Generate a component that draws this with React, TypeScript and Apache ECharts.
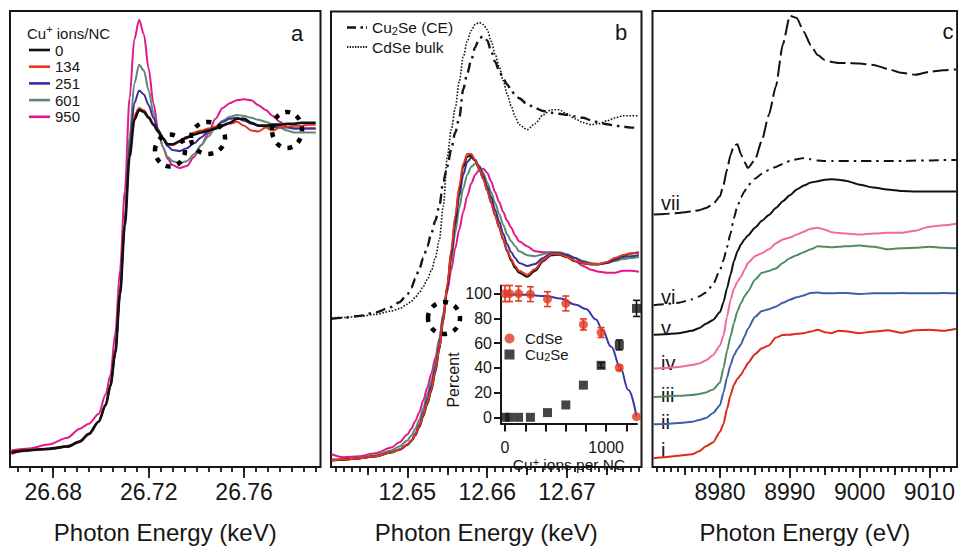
import React, { useEffect, useRef } from "react";
import * as echarts from "echarts";

const FONT = '"Liberation Sans", Arial, Helvetica, sans-serif';
const INK = "#161616";

// ---------------- Panel a ----------------
const aEnergy = [26.6625, 26.670, 26.678, 26.686, 26.691, 26.695, 26.699, 26.702, 26.704, 26.706, 26.708, 26.710, 26.712, 26.714, 26.716, 26.718, 26.720, 26.722, 26.724, 26.726, 26.728, 26.730, 26.733, 26.736, 26.739, 26.742, 26.745, 26.748, 26.751, 26.754, 26.757, 26.760, 26.763, 26.766, 26.769, 26.772, 26.775, 26.778, 26.781, 26.784, 26.787, 26.790];
const a0 = [-0.005, 0.001, 0.006, 0.013, 0.028, 0.052, 0.089, 0.14, 0.2, 0.299, 0.48, 0.691, 0.902, 1.016, 1.046, 1.04, 1.022, 1.001, 0.98, 0.959, 0.941, 0.941, 0.95, 0.962, 0.971, 0.977, 0.983, 0.989, 0.998, 1.007, 1.019, 1.019, 1.007, 0.998, 0.998, 1.001, 1.001, 1.004, 1.004, 1.007, 1.007, 1.007];
const a134 = [-0.01, 0.004, 0.004, 0.015, 0.026, 0.05, 0.088, 0.14, 0.2, 0.3, 0.485, 0.7, 0.915, 1.03, 1.052, 1.045, 1.026, 1.003, 0.98, 0.958, 0.94, 0.938, 0.948, 0.959, 0.977, 0.983, 0.989, 0.995, 1.001, 1.004, 1.01, 0.998, 0.983, 0.98, 0.992, 0.983, 0.992, 0.995, 0.998, 0.998, 1.001, 1.001];
const a251 = [-0.006, 0.002, 0.005, 0.012, 0.027, 0.051, 0.088, 0.14, 0.2, 0.3, 0.485, 0.697, 0.932, 1.067, 1.106, 1.094, 1.061, 1.022, 0.986, 0.956, 0.935, 0.923, 0.92, 0.929, 0.944, 0.962, 0.98, 0.995, 1.01, 1.019, 1.022, 1.013, 1.004, 0.998, 0.995, 0.995, 0.992, 0.992, 0.989, 0.989, 0.989, 0.989];
const a601 = [-0.006, 0.002, 0.006, 0.013, 0.028, 0.052, 0.09, 0.142, 0.203, 0.305, 0.49, 0.715, 0.962, 1.127, 1.185, 1.167, 1.106, 1.037, 0.977, 0.932, 0.902, 0.889, 0.883, 0.889, 0.91, 0.938, 0.965, 0.992, 1.013, 1.025, 1.031, 1.028, 1.022, 1.016, 1.01, 1.001, 0.992, 0.983, 0.977, 0.977, 0.977, 0.977];
const a950 = [0.001, 0.007, 0.019, 0.04, 0.067, 0.083, 0.113, 0.173, 0.233, 0.36, 0.555, 0.796, 1.082, 1.263, 1.323, 1.278, 1.173, 1.067, 0.986, 0.932, 0.896, 0.877, 0.868, 0.874, 0.902, 0.938, 0.974, 1.019, 1.052, 1.067, 1.076, 1.079, 1.076, 1.061, 1.046, 1.028, 1.01, 0.995, 0.989, 0.989, 0.989, 0.989];
const aMajorTicks = [26.68, 26.72, 26.76];
const ionNames = ["0", "134", "251", "601", "950"];

// ---------------- Panel b ----------------
const bEnergy = [12.6405, 12.642, 12.644, 12.646, 12.648, 12.649, 12.650, 12.6505, 12.651, 12.6515, 12.652, 12.6525, 12.653, 12.6535, 12.654, 12.6545, 12.655, 12.6555, 12.656, 12.6565, 12.657, 12.6575, 12.658, 12.6585, 12.659, 12.6595, 12.660, 12.6605, 12.661, 12.6615, 12.662, 12.6625, 12.663, 12.6635, 12.664, 12.665, 12.666, 12.667, 12.668, 12.669, 12.670, 12.671, 12.672, 12.673, 12.674, 12.675, 12.676, 12.677, 12.678, 12.679];
const b0 = [-0.018, -0.014, -0.007, 0.003, 0.022, 0.036, 0.06, 0.079, 0.108, 0.15, 0.203, 0.265, 0.33, 0.422, 0.535, 0.68, 0.85, 1.02, 1.19, 1.338, 1.45, 1.5, 1.505, 1.48, 1.438, 1.39, 1.333, 1.27, 1.206, 1.146, 1.085, 1.028, 0.981, 0.944, 0.92, 0.9, 0.93, 0.978, 1.008, 1.01, 0.997, 0.977, 0.967, 0.962, 0.962, 0.972, 0.992, 1.006, 1.016, 1.021];
const b134 = [-0.016, -0.013, -0.006, 0.004, 0.024, 0.038, 0.063, 0.082, 0.112, 0.156, 0.21, 0.273, 0.337, 0.43, 0.543, 0.69, 0.861, 1.033, 1.204, 1.351, 1.464, 1.513, 1.513, 1.484, 1.44, 1.39, 1.332, 1.268, 1.204, 1.146, 1.087, 1.033, 0.989, 0.954, 0.93, 0.91, 0.939, 0.984, 1.013, 1.013, 0.999, 0.979, 0.969, 0.964, 0.964, 0.974, 0.994, 1.008, 1.018, 1.023];
const b251 = [-0.016, -0.013, -0.006, 0.004, 0.024, 0.038, 0.063, 0.082, 0.117, 0.161, 0.22, 0.288, 0.357, 0.445, 0.558, 0.7, 0.852, 1.008, 1.16, 1.302, 1.41, 1.474, 1.494, 1.484, 1.45, 1.405, 1.351, 1.297, 1.234, 1.175, 1.116, 1.062, 1.023, 0.994, 0.969, 0.954, 0.964, 0.994, 1.018, 1.018, 1.008, 0.994, 0.974, 0.964, 0.964, 0.969, 0.984, 0.999, 1.003, 1.008];
const b601 = [-0.011, -0.011, -0.004, 0.009, 0.033, 0.053, 0.082, 0.107, 0.141, 0.185, 0.244, 0.313, 0.381, 0.469, 0.582, 0.714, 0.847, 0.984, 1.121, 1.244, 1.342, 1.41, 1.45, 1.464, 1.455, 1.42, 1.371, 1.322, 1.268, 1.214, 1.16, 1.111, 1.077, 1.053, 1.028, 1.008, 1.003, 1.013, 1.023, 1.023, 1.013, 0.994, 0.979, 0.969, 0.964, 0.969, 0.979, 0.989, 0.994, 0.999];
const b950 = [0.014, -0.001, 0.004, 0.019, 0.048, 0.073, 0.112, 0.141, 0.18, 0.224, 0.283, 0.347, 0.416, 0.494, 0.592, 0.714, 0.827, 0.935, 1.043, 1.136, 1.224, 1.302, 1.366, 1.41, 1.435, 1.44, 1.42, 1.376, 1.322, 1.273, 1.224, 1.18, 1.146, 1.106, 1.077, 1.053, 1.028, 1.023, 1.023, 1.018, 1.003, 0.979, 0.954, 0.935, 0.925, 0.92, 0.92, 0.93, 0.93, 0.925];
const bCdSeBulk = [0.695, 0.697, 0.702, 0.712, 0.729, 0.741, 0.763, 0.778, 0.798, 0.822, 0.852, 0.886, 0.93, 0.994, 1.082, 1.253, 1.498, 1.635, 1.743, 1.876, 1.998, 2.076, 2.13, 2.16, 2.17, 2.16, 2.135, 2.076, 2.012, 1.949, 1.88, 1.812, 1.753, 1.699, 1.66, 1.635, 1.665, 1.709, 1.734, 1.734, 1.714, 1.689, 1.67, 1.66, 1.665, 1.679, 1.694, 1.704, 1.704, 1.704];
const bCu2SeCE = [0.69, 0.695, 0.705, 0.722, 0.749, 0.773, 0.812, 0.846, 0.89, 0.94, 0.994, 1.052, 1.116, 1.18, 1.253, 1.376, 1.45, 1.538, 1.621, 1.694, 1.837, 1.915, 1.983, 2.047, 2.091, 2.101, 2.081, 2.027, 1.973, 1.929, 1.89, 1.861, 1.832, 1.807, 1.792, 1.763, 1.743, 1.728, 1.719, 1.714, 1.709, 1.701, 1.694, 1.682, 1.67, 1.662, 1.655, 1.65, 1.645, 1.645];
const bMajorTicks = [12.65, 12.66, 12.67];
const bMidTicks = [12.645, 12.655, 12.665, 12.675];

// ---------------- Panel c ----------------
const cEnergy = [8970.5, 8972, 8974, 8976, 8977, 8978, 8979, 8980, 8980.5, 8981, 8981.5, 8982, 8982.5, 8983, 8983.5, 8984, 8985, 8986, 8987, 8988, 8989, 8990, 8991, 8992, 8993, 8994, 8995, 8996, 8997, 8998, 9000, 9002, 9004, 9006, 9008, 9010, 9012, 9013.8];
const cI = [0.069, 0.077, 0.088, 0.1, 0.123, 0.162, 0.192, 0.277, 0.338, 0.454, 0.562, 0.646, 0.692, 0.723, 0.769, 0.815, 0.885, 0.931, 0.954, 1.015, 1.035, 1.038, 1.046, 1.05, 1.062, 1.077, 1.058, 1.05, 1.069, 1.065, 1.05, 1.062, 1.073, 1.054, 1.073, 1.077, 1.069, 1.085];
const cII = [0.335, 0.338, 0.346, 0.354, 0.369, 0.385, 0.423, 0.485, 0.585, 0.7, 0.8, 0.877, 0.923, 0.962, 1.023, 1.085, 1.177, 1.223, 1.238, 1.258, 1.288, 1.312, 1.331, 1.346, 1.365, 1.369, 1.362, 1.362, 1.365, 1.365, 1.358, 1.362, 1.362, 1.365, 1.362, 1.362, 1.365, 1.362];
const cIII = [0.55, 0.554, 0.558, 0.565, 0.573, 0.585, 0.608, 0.662, 0.777, 0.908, 1.023, 1.131, 1.223, 1.285, 1.338, 1.377, 1.469, 1.523, 1.538, 1.558, 1.6, 1.638, 1.662, 1.685, 1.708, 1.731, 1.727, 1.723, 1.727, 1.731, 1.738, 1.727, 1.708, 1.715, 1.719, 1.727, 1.719, 1.715];
const cIV = [0.773, 0.777, 0.785, 0.8, 0.812, 0.838, 0.877, 0.954, 1.031, 1.177, 1.308, 1.4, 1.454, 1.492, 1.546, 1.6, 1.654, 1.677, 1.708, 1.754, 1.785, 1.8, 1.823, 1.846, 1.869, 1.877, 1.862, 1.842, 1.835, 1.831, 1.823, 1.831, 1.838, 1.838, 1.854, 1.885, 1.896, 1.908];
const cV = [1.038, 1.042, 1.05, 1.069, 1.088, 1.123, 1.154, 1.215, 1.292, 1.4, 1.508, 1.615, 1.692, 1.746, 1.785, 1.815, 1.877, 1.931, 1.977, 2.031, 2.085, 2.131, 2.177, 2.208, 2.231, 2.242, 2.254, 2.258, 2.254, 2.246, 2.215, 2.192, 2.177, 2.165, 2.162, 2.162, 2.162, 2.162];
const cVI = [1.269, 1.277, 1.288, 1.315, 1.338, 1.369, 1.431, 1.546, 1.623, 1.723, 1.831, 1.954, 2.046, 2.115, 2.162, 2.208, 2.262, 2.3, 2.331, 2.354, 2.377, 2.4, 2.415, 2.423, 2.415, 2.404, 2.4, 2.4, 2.4, 2.4, 2.4, 2.4, 2.4, 2.4, 2.404, 2.404, 2.408, 2.408];
const cVII = [1.981, 1.985, 1.992, 2.004, 2.015, 2.031, 2.062, 2.123, 2.215, 2.331, 2.446, 2.523, 2.531, 2.454, 2.392, 2.346, 2.408, 2.562, 2.762, 2.985, 3.315, 3.538, 3.523, 3.415, 3.308, 3.231, 3.192, 3.177, 3.169, 3.169, 3.165, 3.154, 3.123, 3.092, 3.077, 3.1, 3.112, 3.119];
const cMajorTicks = [8980, 8990, 9000, 9010];
const cMidTicks = [8975, 8985, 8995, 9005];
const cLabels = ["i", "ii", "iii", "iv", "v", "vi", "vii"];

// ---------------- Inset ----------------
const insetIons = [0, 45, 134, 251, 420, 601, 775, 950, 1130, 1300];
const insetCdSe = [100, 100, 100, 99.5, 95.5, 92, 75, 68.5, 40, 0.5];
const insetCdSeErr = [6.5, 6.5, 6, 6, 6, 6, 4.5, 4, 2, 0];
const insetCu2Se = [0, 0, 0, 0, 3.8, 10, 26, 42, 58.5, 88];
const insetCu2SeErr = [0, 0, 0, 0, 0, 0, 0, 2, 4, 6.5];
const insetFitIons = [0, 200, 400, 550, 700, 800, 900, 960, 1050, 1140, 1220, 1300];
const insetFitPct = [99, 99, 98, 96, 91, 87.5, 79, 71, 57, 40, 22, 0.6];
const insetPctTicks = [0, 20, 40, 60, 80, 100];
const insetIonTicks = [0, 200, 400, 600, 800, 1000, 1200];
const insetIonLabels = [0, 1000];

const COL: Record<string, string> = {
  "0": "#111111",
  "134": "#e2371c",
  "251": "#3a2d9c",
  "601": "#5b8a72",
  "950": "#e3178c",
  i: "#de2a1b",
  ii: "#3f5fa8",
  iii: "#4f8d60",
  iv: "#ef6b9b",
  v: "#111111",
  vi: "#111111",
  vii: "#111111",
};

const ICON_DASHDOT = "path://M0 0H9V2.4H0Z M13.5 0H16V2.4H13.5Z M19 0H20V2.4H19Z";
const ICON_DOTTED = "path://M0 0H1.3V1.8H0Z M2.6 0H3.9V1.8H2.6Z M5.2 0H6.5V1.8H5.2Z M7.8 0H9.1V1.8H7.8Z M10.4 0H11.7V1.8H10.4Z M13 0H14.3V1.8H13Z M15.6 0H16.9V1.8H15.6Z M18.2 0H19.5V1.8H18.2Z";
const ICON_SQUARE = "path://M0 0H10V10H0Z";

function pairs(xs: number[], ys: number[]) {
  return xs.map((x, i) => [x, ys[i]]);
}
function seq(a: number, b: number, step: number, d: number) {
  const out: number[] = [];
  for (let k = 0; a + k * step <= b + step / 2; k++) out.push(+(a + k * step).toFixed(d));
  return out;
}

function tickAxis(gridIndex: number, min: number, max: number, ticks: number[], len: number) {
  return {
    type: "value",
    gridIndex,
    min,
    max,
    position: "bottom",
    axisLine: { show: false, onZero: false },
    splitLine: { show: false },
    axisLabel: { show: false },
    axisTick: { show: true, inside: false, length: len, customValues: ticks, lineStyle: { color: INK, width: 1.8 } },
  };
}
function majorAxis(gridIndex: number, min: number, max: number, ticks: number[], name: string, fmt: (v: number) => string) {
  return {
    ...tickAxis(gridIndex, min, max, ticks, 11),
    axisLabel: {
      show: true,
      customValues: ticks,
      formatter: fmt,
      fontSize: 23,
      fontFamily: FONT,
      color: INK,
      margin: 13,
    },
    name,
    nameLocation: "middle",
    nameGap: 53,
    nameMoveOverlap: false,
    nameTextStyle: { fontSize: 24, fontFamily: FONT, color: INK },
  };
}

function curve(name: string, xi: number, yi: number, xs: number[], ys: number[], width = 2, extra: any = {}) {
  return {
    type: "line",
    name,
    xAxisIndex: xi,
    yAxisIndex: yi,
    data: pairs(xs, ys),
    symbol: "none",
    showSymbol: false,
    smooth: 0.3,
    smoothMonotone: "x",
    silent: true,
    lineStyle: { color: extra.color || COL[name], width, type: extra.type || "solid", cap: "butt" },
    itemStyle: { color: extra.color || COL[name] },
  };
}

function errorBars(name: string, ys: number[], errs: number[], color: string) {
  return {
    type: "custom",
    name,
    xAxisIndex: 8,
    yAxisIndex: 3,
    clip: false,
    silent: true,
    z: 3,
    encode: { x: 0, y: 1 },
    data: insetIons.map((x, i) => [x, ys[i], errs[i]]),
    renderItem: (_p: any, api: any) => {
      const x = api.value(0);
      const y = api.value(1);
      const e = api.value(2);
      if (!e) return { type: "group", children: [] };
      const t = api.coord([x, y + e]);
      const b = api.coord([x, y - e]);
      const st = { stroke: color, lineWidth: 1.6 };
      return {
        type: "group",
        children: [
          { type: "line", shape: { x1: t[0], y1: t[1], x2: b[0], y2: b[1] }, style: st },
          { type: "line", shape: { x1: t[0] - 3.5, y1: t[1], x2: t[0] + 3.5, y2: t[1] }, style: st },
          { type: "line", shape: { x1: b[0] - 3.5, y1: b[1], x2: b[0] + 3.5, y2: b[1] }, style: st },
        ],
      };
    },
  };
}

const subRich = (fs: number, lh: number) => ({
  n: { fontSize: fs, fontFamily: FONT, color: INK, lineHeight: lh, verticalAlign: "middle" },
  s: { fontSize: Math.round(fs * 0.7), fontFamily: FONT, color: INK, lineHeight: Math.round(lh * 0.5), verticalAlign: "bottom" },
  p: { fontSize: Math.round(fs * 0.72), fontFamily: FONT, color: INK, lineHeight: Math.round(lh * 0.5), verticalAlign: "top" },
});
const subFormat = (name: string) => {
  if (name.startsWith("Cu2Se")) return "{n|Cu}{s|2}{n|Se" + name.slice(5) + "}";
  return "{n|" + name + "}";
};

function buildOption() {
  const gridBox = { show: true, borderColor: INK, borderWidth: 2, backgroundColor: "transparent" };
  const xAxis = [
    tickAxis(0, 26.6619, 26.792, seq(26.665, 26.79, 0.005, 3), 5),
    majorAxis(0, 26.6619, 26.792, aMajorTicks, "Photon Energy (keV)", (v) => v.toFixed(2)),
    tickAxis(1, 12.64044, 12.67932, seq(12.641, 12.679, 0.001, 3), 5),
    tickAxis(1, 12.64044, 12.67932, bMidTicks, 8),
    majorAxis(1, 12.64044, 12.67932, bMajorTicks, "Photon Energy (keV)", (v) => v.toFixed(2)),
    tickAxis(2, 8970.33, 9013.97, seq(8971, 9013, 1, 0), 5),
    tickAxis(2, 8970.33, 9013.97, cMidTicks, 8),
    majorAxis(2, 8970.33, 9013.97, cMajorTicks, "Photon Energy (eV)", (v) => String(Math.round(v))),
    {
      type: "value",
      gridIndex: 3,
      min: -40,
      max: 1305,
      position: "bottom",
      axisLine: { show: true, onZero: false, lineStyle: { color: INK, width: 2 } },
      splitLine: { show: false },
      axisTick: { show: true, length: 8, customValues: insetIonTicks, lineStyle: { color: INK, width: 2 } },
      axisLabel: {
        customValues: insetIonLabels,
        formatter: (v: number) => String(Math.round(v)),
        fontSize: 16,
        lineHeight: 15,
        fontFamily: FONT,
        color: INK,
        margin: 16,
      },
      name: "{n|Cu}{p|+}{n| ions per NC}",
      nameLocation: "middle",
      nameGap: 33,
      nameMoveOverlap: false,
      nameTextStyle: { rich: subRich(15.5, 15) },
    },
  ];
  const yAxis = [
    { type: "value", gridIndex: 0, min: -0.05, max: 1.35, show: false },
    { type: "value", gridIndex: 1, min: -0.05, max: 2.225, show: false },
    { type: "value", gridIndex: 2, min: 0, max: 3.577, show: false },
    {
      type: "value",
      gridIndex: 3,
      min: -5,
      max: 106.5,
      axisLine: { show: true, onZero: false, lineStyle: { color: INK, width: 2 } },
      axisTick: { show: true, length: 7, customValues: insetPctTicks, lineStyle: { color: INK, width: 2 } },
      axisLabel: { customValues: insetPctTicks, fontSize: 16, fontFamily: FONT, color: INK, margin: 9 },
      splitLine: { show: false },
    },
  ];

  const aData: Record<string, number[]> = { "0": a0, "134": a134, "251": a251, "601": a601, "950": a950 };
  const bData: Record<string, number[]> = { "0": b0, "134": b134, "251": b251, "601": b601, "950": b950 };
  const drawOrderA = ["950", "601", "251", "134", "0"];
  const drawOrderB = ["950", "601", "251", "0", "134"];

  const series: any[] = [];
  drawOrderA.forEach((n) => series.push(curve(n, 1, 0, aEnergy, aData[n], n === "0" ? 2.6 : 2)));
  series.push(curve("CdSe bulk", 4, 1, bEnergy, bCdSeBulk, 1.6, { color: INK, type: [1.6, 1.6] }));
  series.push(curve("Cu2Se (CE)", 4, 1, bEnergy, bCu2SeCE, 2.4, { color: INK, type: [10, 5, 2.5, 5] }));
  drawOrderB.forEach((n) => series.push(curve(n, 4, 1, bEnergy, bData[n], 2)));
  const cData = [cI, cII, cIII, cIV, cV, cVI, cVII];
  cLabels.forEach((n, i) => {
    const extra: any = {};
    if (n === "vi") extra.type = [10, 5, 2.5, 5];
    if (n === "vii") extra.type = [16, 5];
    const s = curve(n, 7, 2, cEnergy, cData[i], 2, extra);
    s.smooth = 0.2;
    series.push(s);
  });
  series.push({
    type: "line",
    name: "fit",
    xAxisIndex: 8,
    yAxisIndex: 3,
    data: pairs(insetFitIons, insetFitPct),
    symbol: "none",
    smooth: 0.4,
    smoothMonotone: "x",
    silent: true,
    clip: false,
    lineStyle: { color: "#3a3aa8", width: 2 },
    z: 2,
  });
  series.push(errorBars("CdSe err", insetCdSe, insetCdSeErr, "#e23a22"));
  series.push(errorBars("Cu2Se err", insetCu2Se, insetCu2SeErr, INK));
  series.push({
    type: "scatter",
    name: "CdSe",
    xAxisIndex: 8,
    yAxisIndex: 3,
    data: pairs(insetIons, insetCdSe),
    symbol: "circle",
    symbolSize: 9,
    clip: false,
    silent: true,
    itemStyle: { color: "#e23a22" },
    z: 4,
  });
  series.push({
    type: "scatter",
    name: "Cu2Se",
    xAxisIndex: 8,
    yAxisIndex: 3,
    data: pairs(insetIons, insetCu2Se),
    symbol: "rect",
    symbolSize: 9,
    clip: false,
    silent: true,
    itemStyle: { color: INK },
    z: 4,
  });

  const legendBase = { orient: "vertical", selectedMode: false, padding: 0 };
  const legend = [
    {
      ...legendBase,
      data: ionNames,
      icon: "rect",
      left: 29,
      top: 42.5,
      itemWidth: 21,
      itemHeight: 2.6,
      itemGap: 1.7,
      textStyle: { fontSize: 15, lineHeight: 15, fontFamily: FONT, color: INK },
    },
    {
      ...legendBase,
      data: [
        { name: "Cu2Se (CE)", icon: ICON_DASHDOT },
        { name: "CdSe bulk", icon: ICON_DOTTED },
      ],
      left: 347,
      top: 19.5,
      itemWidth: 20,
      itemHeight: 2.4,
      itemGap: 2.5,
      formatter: subFormat,
      textStyle: { rich: subRich(15.5, 18) },
    },
    {
      ...legendBase,
      data: [
        { name: "CdSe", icon: "circle" },
        { name: "Cu2Se", icon: ICON_SQUARE },
      ],
      left: 504.5,
      top: 331,
      itemWidth: 21,
      itemHeight: 10,
      itemGap: 1,
      formatter: subFormat,
      textStyle: { rich: subRich(15, 16) },
    },
  ];

  const textStyle = (fs: number) => ({ fontSize: fs, fontFamily: FONT, fill: INK });
  const cLabelY = [450, 422, 395, 363, 328, 297, 203];
  const dots = { fill: "none", stroke: "#000", lineWidth: 4.5, lineDash: [5, 7] };
  const graphic: any[] = [
    {
      type: "text",
      x: 27,
      y: 33,
      style: {
        text: "{n|Cu}{p|+}{n| ions/NC}",
        verticalAlign: "middle",
        align: "left",
        rich: {
          n: { fontSize: 15, fontFamily: FONT, fill: INK, lineHeight: 20, verticalAlign: "middle" },
          p: { fontSize: 11, fontFamily: FONT, fill: INK, lineHeight: 10, verticalAlign: "top" },
        },
      },
    },
    { type: "text", x: 297, y: 33, style: { text: "a", ...textStyle(22), align: "center", verticalAlign: "middle" } },
    { type: "text", x: 621, y: 32, style: { text: "b", ...textStyle(22), align: "center", verticalAlign: "middle" } },
    { type: "text", x: 948, y: 31.5, style: { text: "c", ...textStyle(22), align: "center", verticalAlign: "middle" } },
    ...cLabels.map((t, i) => ({
      type: "text",
      x: 661,
      y: cLabelY[i],
      style: { text: t, ...textStyle(20), align: "left", verticalAlign: "middle" },
    })),
    { type: "ellipse", shape: { cx: 170, cy: 150.5, rx: 15, ry: 16 }, style: dots, z: 50 },
    { type: "ellipse", shape: { cx: 208, cy: 138, rx: 17, ry: 16 }, style: dots, z: 50 },
    { type: "ellipse", shape: { cx: 287, cy: 130, rx: 15, ry: 18 }, style: dots, z: 50 },
    { type: "ellipse", shape: { cx: 444, cy: 318, rx: 16, ry: 16 }, style: dots, z: 50 },
    {
      type: "text",
      x: 453,
      y: 380,
      rotation: Math.PI / 2,
      style: { text: "Percent", ...textStyle(16), align: "center", verticalAlign: "middle" },
    },
  ];

  return {
    animation: false,
    backgroundColor: "#ffffff",
    grid: [
      { left: 10, top: 11, width: 310.5, height: 465, ...gridBox },
      { left: 331, top: 11.5, width: 310.5, height: 464.5, ...gridBox },
      { left: 652.5, top: 11, width: 309, height: 465, ...gridBox },
      { left: 501, top: 285.5, width: 136, height: 138, show: false },
    ],
    xAxis,
    yAxis,
    legend,
    graphic,
    series,
  };
}

export default function App() {
  const ref = useRef<HTMLDivElement>(null);
  useEffect(() => {
    if (!ref.current) return;
    const chart = echarts.init(ref.current, null, { renderer: "svg" });
    chart.setOption(buildOption() as any);
    return () => chart.dispose();
  }, []);
  return <div ref={ref} style={{ position: "absolute", left: 0, top: 0, width: 958, height: 549 }} />;
}
